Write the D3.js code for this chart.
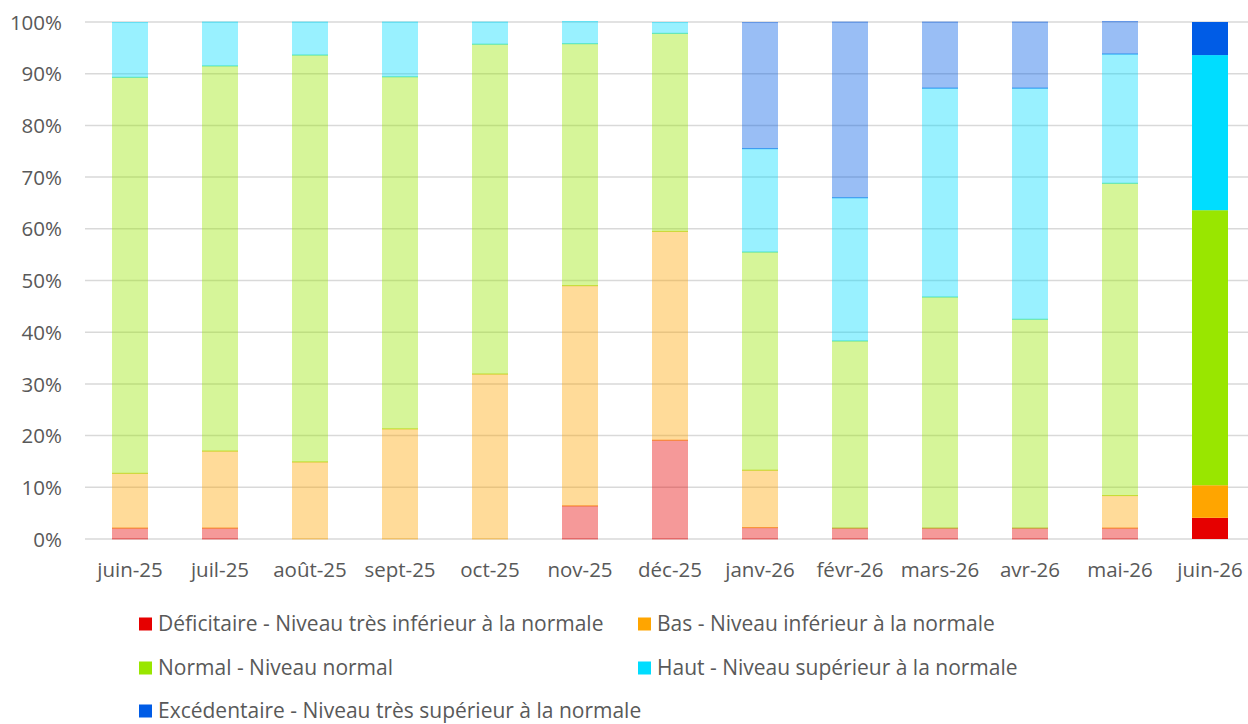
<!DOCTYPE html>
<html>
<head>
<meta charset="utf-8">
<script src="https://cdn.jsdelivr.net/npm/d3@7"></script>
<style>
  body { margin: 0; background: #fff; }
  text { font-family: "Open Sans", sans-serif; fill: #595959; }
</style>
</head>
<body>
<div id="container"></div>
<script>
// months on the x axis
var months = ["juin-25", "juil-25", "août-25", "sept-25", "oct-25", "nov-25", "déc-25",
              "janv-26", "févr-26", "mars-26", "avr-26", "mai-26", "juin-26"];

// share of stations per level (%)
var deficitaire  = [2.1, 2.1, 0,    0,    0,    6.4,  19.1, 2.2,  2.1,  2.1,  2.1,  2.1,  4.1];
var bas          = [10.6, 14.9, 14.9, 21.3, 31.9, 42.6, 40.4, 11.1, 0,    0,    0,    6.3,  6.3];
var normal       = [76.6, 74.5, 78.7, 68.1, 63.8, 46.8, 38.3, 42.2, 36.2, 44.7, 40.4, 60.4, 53.2];
var haut         = [10.6, 8.5,  6.4,  10.6, 4.3,  4.3,  2.1,  20.0, 27.7, 40.4, 44.7, 25.0, 30.0];
var excedentaire = [0,    0,    0,    0,    0,    0,    0,    24.4, 34.0, 12.8, 12.8, 6.3,  6.4];

var yTicks = [0, 10, 20, 30, 40, 50, 60, 70, 80, 90, 100];

var levels = ["deficitaire", "bas", "normal", "haut", "excedentaire"];
var levelLabels = [
  "Déficitaire - Niveau très inférieur à la normale",
  "Bas - Niveau inférieur à la normale",
  "Normal - Niveau normal",
  "Haut - Niveau supérieur à la normale",
  "Excédentaire - Niveau très supérieur à la normale"
];
var levelColors = ["#e60000", "#ffa500", "#99e600", "#00ddff", "#005ce6"];

var rows = months.map(function(m, i) {
  return {month: m, deficitaire: deficitaire[i], bas: bas[i], normal: normal[i],
          haut: haut[i], excedentaire: excedentaire[i]};
});

const width = 1248;
const height = 724;
const top_y = 22;
const bottom_y = 539;
const left_x = 85;

const svg = d3.select("div#container").append("svg")
    .attr("width", width)
    .attr("height", height);

const xScale = d3.scaleBand()
    .domain(months)
    .range([left_x, left_x + 90 * months.length])
    .paddingInner(0.6)
    .paddingOuter(0.3);

const yScale = d3.scaleLinear()
    .domain([0, 100])
    .range([bottom_y, top_y]);

//---------------------------GRID-------------------------------//
svg.append("g")
  .selectAll("line")
  .data(yTicks)
  .enter()
  .append("line")
  .attr("x1", left_x)
  .attr("x2", width)
  .attr("y1", function(d) { return yScale(d); })
  .attr("y2", function(d) { return yScale(d); })
  .attr("stroke", "#d9d9d9")
  .attr("stroke-width", 1.5);

// y axis labels
const yaxis = d3.axisLeft(yScale)
    .tickValues(yTicks)
    .tickSize(0)
    .tickPadding(0)
    .tickFormat(function(d) { return d + "%"; });

svg.append("g")
    .attr("class", "yaxis")
    .attr("transform", "translate(62,0)")
    .call(yaxis)
    .call(function(g) { g.select(".domain").remove(); })
    .selectAll("text")
    .attr("font-size", 20.5)
    .attr("dy", "0.35em");

// x axis labels
const xaxis = d3.axisBottom(xScale)
    .tickSize(0)
    .tickPadding(0);

svg.append("g")
    .attr("class", "xaxis")
    .attr("transform", "translate(0,577)")
    .call(xaxis)
    .call(function(g) { g.select(".domain").remove(); })
    .selectAll("text")
    .attr("font-size", 20.5)
    .attr("dy", 0);

//---------------------------BARS-------------------------------//
const stacked = d3.stack().keys(levels)(rows);

const series = svg.selectAll("g.serie")
    .data(stacked)
    .enter()
    .append("g")
    .attr("class", "serie")
    .attr("fill", function(d, i) { return levelColors[i]; })
    .attr("stroke", function(d, i) { return levelColors[i]; });

series.selectAll("rect")
    .data(function(d) { return d.filter(function(p) { return p[1] - p[0] > 0; }); })
    .enter()
    .append("rect")
    .attr("x", function(d) { return xScale(d.data.month); })
    .attr("y", function(d) { return yScale(d[1]); })
    .attr("width", xScale.bandwidth())
    .attr("height", function(d) { return yScale(d[0]) - yScale(d[1]); })
    .attr("fill-opacity", function(d) { return d.data.month == months[months.length - 1] ? 1 : 0.4; })
    .attr("stroke-opacity", function(d) { return d.data.month == months[months.length - 1] ? 0 : 0.45; })
    .attr("stroke-width", 1)
    // only top and bottom edges get a line
    .attr("stroke-dasharray", function(d) {
      var w = xScale.bandwidth();
      var h = yScale(d[0]) - yScale(d[1]);
      return w + "," + h + "," + w + "," + h;
    });

//---------------------------LEGEND-----------------------------//
const legendPos = [[139, 624], [638, 624], [139, 668], [638, 668], [139, 711]];

const legend = svg.selectAll("g.legend")
    .data(levelLabels)
    .enter()
    .append("g")
    .attr("class", "legend")
    .attr("transform", function(d, i) { return "translate(" + legendPos[i][0] + "," + legendPos[i][1] + ")"; });

legend.append("rect")
    .attr("x", 0)
    .attr("y", -6.5)
    .attr("width", 13)
    .attr("height", 13)
    .attr("fill", function(d, i) { return levelColors[i]; });

legend.append("text")
    .attr("x", 19)
    .attr("dy", "0.35em")
    .attr("font-size", 21)
    .text(function(d) { return d; });
</script>
</body>
</html>
